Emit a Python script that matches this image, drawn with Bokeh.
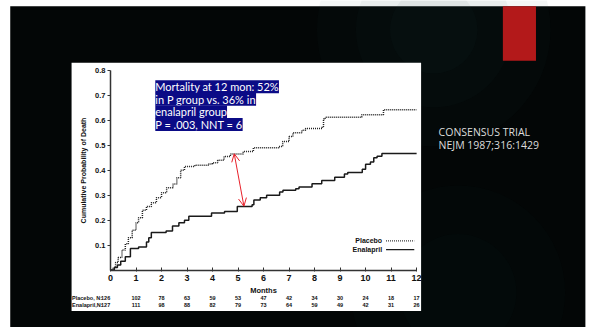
from bokeh.plotting import figure
from bokeh.models import Range1d, LinearAxis, FixedTicker, Label, Arrow, OpenHead
from bokeh.core.properties import value
from bokeh.embed import file_html
from bokeh.resources import INLINE

# ---------------- data ----------------
months_ticks = list(range(0, 13))
prob_ticks = [0.1, 0.2, 0.3, 0.4, 0.5, 0.6, 0.7, 0.8]

placebo_t = [0, 0.1, 0.2, 0.3, 0.45, 0.58, 0.7, 0.85, 1.0, 1.1, 1.25, 1.41, 1.6, 1.8, 2.0,
             2.2, 2.45, 2.6, 2.75, 2.9, 3.3, 3.85, 4.0, 4.2, 4.45, 4.7, 5.2, 5.6, 6.6, 6.75,
             7.0, 7.15, 7.5, 7.65, 8.3, 8.35, 8.42, 9.85, 10.7, 12.0]
placebo_p = [0, 0.01, 0.03, 0.05, 0.08, 0.105, 0.13, 0.16, 0.19, 0.21, 0.24, 0.255, 0.27, 0.29, 0.31,
             0.33, 0.345, 0.37, 0.40, 0.415, 0.42, 0.425, 0.43, 0.44, 0.455, 0.465, 0.475, 0.49, 0.495, 0.515,
             0.535, 0.55, 0.56, 0.567, 0.575, 0.605, 0.612, 0.622, 0.642, 0.642]

enal_t = [0, 0.15, 0.27, 0.4, 0.58, 0.78, 1.1, 1.41, 1.5, 1.6, 2.18, 2.43, 2.68, 2.9, 3.07,
          3.96, 4.47, 4.97, 5.55, 5.62, 5.87, 6.12, 6.63, 6.76, 7.26, 7.39, 7.9, 8.28, 8.79,
          9.17, 9.3, 9.87, 10.0, 10.19, 10.32, 10.45, 10.64, 12.0]
enal_p = [0, 0.01, 0.02, 0.035, 0.053, 0.086, 0.092, 0.112, 0.13, 0.151, 0.157, 0.177, 0.19, 0.2, 0.216,
          0.229, 0.235, 0.255, 0.262, 0.281, 0.29, 0.3, 0.313, 0.32, 0.326, 0.333, 0.346, 0.359, 0.372,
          0.385, 0.391, 0.404, 0.424, 0.433, 0.45, 0.456, 0.467, 0.467]

placebo_n = [126, 102, 78, 63, 59, 53, 47, 42, 34, 30, 24, 18, 17]
enal_n = [127, 111, 98, 88, 82, 79, 73, 64, 59, 49, 42, 31, 26]

box_lines = ["Mortality at 12 mon: 52%", "in P group vs. 36% in", "enalapril group", "P = .003, NNT = 6"]
side_lines = ["CONSENSUS TRIAL", "NEJM 1987;316:1429"]

# ---------------- layout helpers (reference pixels -> data) ----------------
W, H = 590, 327
PX0, PXM = 113.0, 26.2      # x of month 0, px per month
PY0, PYP = 277.0, 256.5     # y of prob 0, px per unit prob

def X(px):
    return (px - PX0) / PXM

def Y(py):
    return (PY0 - py) / PYP

p = figure(width=W, height=H, output_backend="svg", toolbar_location=None,
           x_range=Range1d(X(0), X(606)), y_range=Range1d(Y(336), Y(0)),
           x_axis_type=None, y_axis_type=None, min_border=0,
           background_fill_color="white", border_fill_color="white",
           outline_line_color=None)
p.grid.visible = False

# slide background
p.quad(left=[X(10)], right=[X(601)], top=[Y(6)], bottom=[Y(340)],
       fill_color="#030606", line_color=None)

# subtle glows on slide background
for r, a in [(120, 0.05), (80, 0.05), (45, 0.05)]:
    p.ellipse(x=[X(445)], y=[Y(30)], width=2 * r / PXM, height=2 * r / PYP,
              fill_color="#1e4a4a", fill_alpha=a, line_color=None)
for r, a in [(110, 0.04), (60, 0.04)]:
    p.ellipse(x=[X(470)], y=[Y(300)], width=2 * r / PXM, height=2 * r / PYP,
              fill_color="#1e4a4a", fill_alpha=a, line_color=None)
p.quad(left=[X(601)], right=[X(610)], top=[Y(0)], bottom=[Y(340)],
       fill_color="white", line_color=None)

# red accent rectangle
p.quad(left=[X(516)], right=[X(550)], top=[Y(6)], bottom=[Y(62)],
       fill_color="#b3191a", line_color=None)

# white inset
p.quad(left=[X(73)], right=[X(432)], top=[Y(64)], bottom=[Y(319)],
       fill_color="white", line_color=None)

# curves
p.step(placebo_t, placebo_p, mode="after", line_color="#222222", line_width=1.5, line_dash="1 1")
p.step(enal_t, enal_p, mode="after", line_color="#1a1a1a", line_width=1.5)

# axes
axis_font = "Liberation Sans"
xa = LinearAxis(ticker=FixedTicker(ticks=months_ticks), fixed_location=0, bounds=(0, 12),
                axis_label="Months", axis_label_text_font=axis_font,
                axis_label_text_font_style="bold", axis_label_text_font_size="7.5px",
                axis_label_standoff=1, axis_label_text_color="#111111",
                major_label_text_font=axis_font, major_label_text_font_style="bold",
                major_label_text_font_size="9px", major_label_text_color="#111111",
                major_label_standoff=4, axis_line_color="#333333", axis_line_width=1.5,
                major_tick_line_color="#333333", major_tick_in=3, major_tick_out=1,
                minor_tick_line_color=None)
p.add_layout(xa, "below")
ya = LinearAxis(ticker=FixedTicker(ticks=prob_ticks), fixed_location=0, bounds=(0, 0.8),
                axis_label="Cumulative Probability of Death", axis_label_text_font=axis_font,
                axis_label_text_font_style="bold", axis_label_text_font_size="7px",
                axis_label_standoff=5, axis_label_text_color="#111111",
                major_label_text_font=axis_font, major_label_text_font_style="bold",
                major_label_text_font_size="7.5px", major_label_text_color="#111111",
                major_label_standoff=2, axis_line_color="#333333", axis_line_width=1.5,
                major_tick_line_color="#333333", major_tick_in=0, major_tick_out=3,
                minor_tick_line_color=None)
p.add_layout(ya, "left")

# at-risk rows
row_font = dict(text_font=value(axis_font), text_font_style="bold", text_font_size="5.5px",
                text_baseline="middle", text_color="#111111")
p.text(x=[X(73.5)] * 2, y=[Y(306), Y(313)], text=["Placebo, N:", "Enalapril,N:"],
       text_align="left", **row_font)
p.text(x=[X(108)] * 2, y=[Y(306), Y(313)], text=[str(placebo_n[0]), str(enal_n[0])],
       text_align="center", **row_font)
p.text(x=months_ticks[1:], y=[Y(306)] * 12, text=[str(v) for v in placebo_n[1:]],
       text_align="center", **row_font)
p.text(x=months_ticks[1:], y=[Y(313)] * 12, text=[str(v) for v in enal_n[1:]],
       text_align="center", **row_font)

# legend
p.text(x=[X(392)] * 2, y=[Y(247), Y(256)], text=["Placebo", "Enalapril"],
       text_font=value(axis_font), text_font_style="bold", text_font_size="7px",
       text_align="right", text_baseline="middle", text_color="#111111")
p.line(x=[X(396), X(425)], y=[Y(247)] * 2, line_color="#333333", line_width=1.2, line_dash="1 1")
p.line(x=[X(396), X(425)], y=[Y(256)] * 2, line_color="#1a1a1a", line_width=1.3)

# annotation arrow
p.add_layout(Arrow(x_start=4.85, y_start=0.466, x_end=5.23, y_end=0.256,
                   start=OpenHead(size=8, line_color="#e8202a", line_width=1),
                   end=OpenHead(size=8, line_color="#e8202a", line_width=1),
                   line_color="#e8202a", line_width=1))

# blue text box
for i, t in enumerate(box_lines):
    p.add_layout(Label(x=X(159), y=Y(88.5 + 13 * i), text=t, text_font="Lato",
                       text_font_size="11px", text_color="white", text_baseline="middle",
                       background_fill_color="#0b0b86", padding=0))

# side citation
for i, t in enumerate(side_lines):
    p.add_layout(Label(x=X(450), y=Y(135 + 13.5 * i), text=t, text_font="Open Sans",
                       text_font_size="10.5px", text_color="#dcdcdc", text_baseline="middle"))

open("out.html", "w").write(file_html(p, INLINE))
